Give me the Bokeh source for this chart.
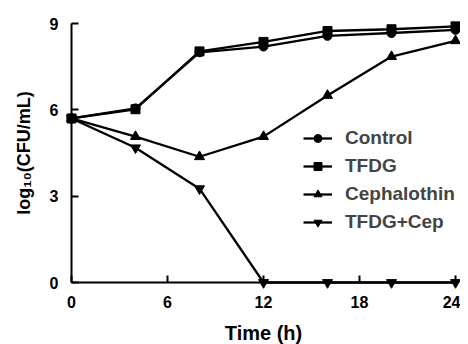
from bokeh.plotting import figure
from bokeh.models import FixedTicker, Range1d, Legend, LegendItem
from bokeh.embed import file_html
from bokeh.resources import INLINE

time_h = [0, 4, 8, 12, 16, 20, 24]
control = [5.7, 6.05, 8.0, 8.2, 8.57, 8.67, 8.78]
tfdg = [5.7, 6.02, 8.03, 8.36, 8.74, 8.8, 8.9]
cephalothin = [5.7, 5.07, 4.37, 5.07, 6.5, 7.85, 8.4]
tfdg_cep = [5.7, 4.68, 3.26, 0, 0, 0, 0]

x_ticks = [0, 6, 12, 18, 24]
y_ticks = [0, 3, 6, 9]

FONT = "Liberation Sans"

p = figure(
    frame_width=384, frame_height=259,
    min_border_left=71, min_border_right=5, min_border_top=23, min_border_bottom=52,
    x_range=Range1d(0, 24), y_range=Range1d(0, 9),
    output_backend="svg", toolbar_location=None,
)
p.outline_line_color = None
p.xgrid.visible = False
p.ygrid.visible = False
p.background_fill_color = "white"
p.border_fill_color = "white"

series = [
    ("Control", control, "circle", 9),
    ("TFDG", tfdg, "square", 9),
    ("Cephalothin", cephalothin, "triangle", 10),
    ("TFDG+Cep", tfdg_cep, "inverted_triangle", 10),
]
items = []
for name, vals, marker, size in series:
    l = p.line(time_h, vals, line_color="black", line_width=2.3, level="overlay")
    s = p.scatter(time_h, vals, marker=marker, size=size, fill_color="black",
                  line_color="black", level="overlay")
    items.append(LegendItem(label=name, renderers=[l, s]))

legend = Legend(items=items, location=(227, 44))
legend.background_fill_alpha = 0
legend.border_line_alpha = 0
legend.label_text_font = FONT
legend.label_text_font_style = "bold"
legend.label_text_font_size = "19px"
legend.glyph_width = 29
legend.glyph_height = 20
legend.label_height = 20
legend.spacing = 6
legend.padding = 5
legend.margin = 0
legend.label_standoff = 13
p.add_layout(legend)

for ax in (p.xaxis[0], p.yaxis[0]):
    ax.axis_line_width = 2
    ax.axis_line_color = "black"
    ax.major_tick_line_width = 2
    ax.major_tick_line_color = "black"
    ax.major_tick_in = 7
    ax.major_tick_out = 0
    ax.minor_tick_line_color = None
    ax.major_label_text_font = FONT
    ax.major_label_text_font_style = "bold"
    ax.major_label_text_font_size = "16px"
    ax.major_label_text_color = "black"
    ax.axis_label_text_font = FONT
    ax.axis_label_text_font_style = "bold"
    ax.axis_label_text_color = "black"

p.xaxis[0].axis_label_text_font_size = "20px"
p.yaxis[0].axis_label_text_font_size = "18px"
p.xaxis[0].ticker = FixedTicker(ticks=x_ticks)
p.yaxis[0].ticker = FixedTicker(ticks=y_ticks)
p.xaxis[0].axis_label = "Time (h)"
p.yaxis[0].axis_label = "log\u2081\u2080(CFU/mL)"
p.xaxis[0].major_label_standoff = 13
p.yaxis[0].major_label_standoff = 13
p.xaxis[0].axis_label_standoff = 11
p.yaxis[0].axis_label_standoff = 13

open("out.html", "w").write(file_html(p, INLINE))
